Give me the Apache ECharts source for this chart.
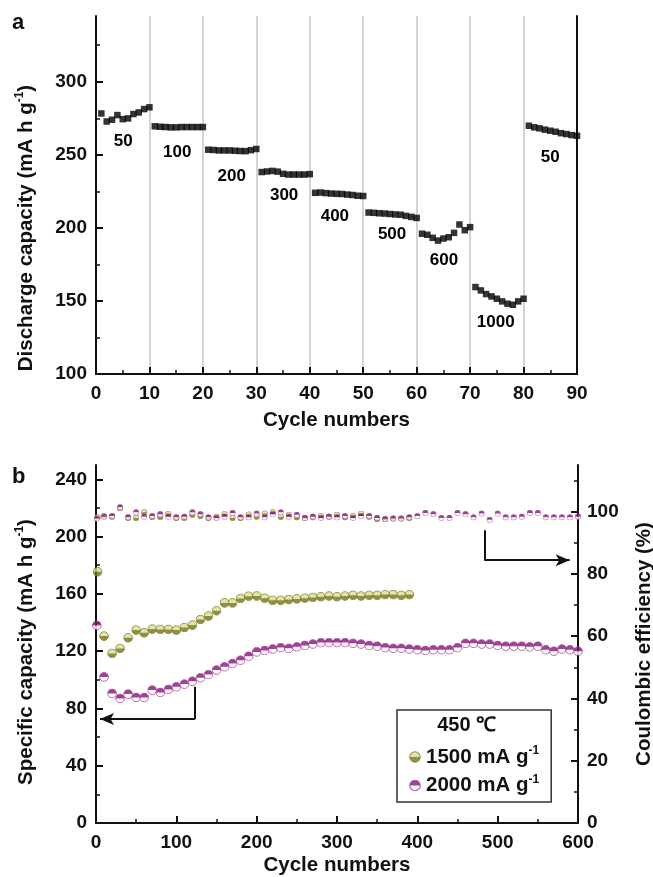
<!DOCTYPE html>
<html><head><meta charset="utf-8">
<script src="https://cdn.jsdelivr.net/npm/echarts@6/dist/echarts.min.js"></script>
<style>html,body{margin:0;padding:0;background:#fff}#c{width:653px;height:877px}</style>
</head><body><div id="c"></div>
<script>
// ---------- Panel a: rate capability ----------
const cyclesA = [1,2,3,4,5,6,7,8,9,10,11,12,13,14,15,16,17,18,19,20,21,22,23,24,25,26,27,28,29,30,
  31,32,33,34,35,36,37,38,39,40,41,42,43,44,45,46,47,48,49,50,51,52,53,54,55,56,57,58,59,60,
  61,62,63,64,65,66,67,68,69,70,71,72,73,74,75,76,77,78,79,80,81,82,83,84,85,86,87,88,89,90];
const capacityA = [
  278.3,272.8,274.0,277.2,274.4,274.9,277.9,279.0,281.3,282.5,
  269.5,269.2,269.0,268.8,268.8,269.0,269.0,269.0,269.0,269.0,
  253.5,253.3,253.0,253.0,253.0,252.8,252.6,252.5,253.2,254.0,
  238.2,238.6,239.0,238.5,237.0,236.5,236.5,236.5,236.5,236.8,
  224.0,224.2,223.8,223.5,223.3,223.2,222.8,222.5,222.0,221.8,
  210.5,210.3,210.0,209.8,209.5,209.2,209.0,208.2,207.5,206.8,
  196.0,195.3,193.2,191.3,192.7,193.6,196.6,202.3,198.4,200.5,
  159.5,157.2,154.7,153.1,151.5,149.7,148.1,147.4,149.7,151.5,
  269.9,268.8,268.1,267.2,266.5,265.8,264.8,264.2,263.5,263.0];
const rateLabels = ['50','100','200','300','400','500','600','1000','50'];
const rateLabelX = [5.1,15.2,25.4,35.2,44.7,55.4,65.1,74.8,85.0];
const rateLabelY = [259.0,251.8,235.5,222.0,207.8,195.5,177.8,135.2,248.4];
const yTicksA = [100,150,200,250,300];

// ---------- Panel b: cycling ----------
const cycles1500 = [2,10,20,30,40,50,60,70,80,90,100,110,120,130,140,150,160,170,180,190,
  200,210,220,230,240,250,260,270,280,290,300,310,320,330,340,350,360,370,380,390];
const cap1500 = [175.4,130.5,118.4,121.9,129.3,134.7,132.8,135.4,135.2,135.2,
  134.7,136.5,138.2,142.1,144.5,148.2,153.7,153.7,156.8,158.4,
  158.5,157.0,155.5,155.5,156.0,156.5,157.0,157.5,158.0,158.5,
  158.0,158.5,159.0,158.5,159.0,159.0,159.5,159.5,159.0,159.5];
const ce1500 = [98.2,98.6,98.4,101.2,98.0,98.0,99.8,98.3,98.3,99.3,
  98.0,98.0,99.0,98.6,98.0,98.4,99.2,98.0,98.0,99.1,
  98.4,99.4,99.8,98.3,99.0,98.2,98.0,98.2,98.6,98.4,
  99.0,98.2,98.6,99.3,98.4,97.6,97.6,97.8,97.8,98.0];
const cycles2000 = [1,10,20,30,40,50,60,70,80,90,100,110,120,130,140,150,160,170,180,190,
  200,210,220,230,240,250,260,270,280,290,300,310,320,330,340,350,360,370,380,390,
  400,410,420,430,440,450,460,470,480,490,500,510,520,530,540,550,560,570,580,590,600];
const cap2000 = [138.0,102.0,90.5,87.0,90.0,87.7,87.7,92.8,91.2,93.3,
  95.1,97.0,99.0,101.4,103.7,106.8,109.1,111.4,113.7,116.5,
  119.5,120.5,121.5,122.5,122.0,123.0,124.0,125.0,126.0,126.0,
  126.0,126.0,125.5,125.0,124.0,123.5,122.5,122.0,122.0,121.5,
  121.0,120.5,121.0,121.0,121.0,122.5,125.5,125.5,125.0,125.0,
  124.0,123.5,123.5,123.5,123.0,123.5,121.0,120.0,121.5,121.0,120.0];
const ce2000 = [97.8,98.4,98.6,101.4,98.2,99.8,98.4,98.6,99.2,98.4,
  98.2,98.4,99.8,99.2,98.2,98.0,98.4,99.6,98.2,98.2,
  99.4,98.2,99.2,99.8,98.4,99.0,98.0,98.4,98.0,98.4,
  98.2,98.6,98.0,98.6,98.6,98.0,97.6,97.8,97.8,98.2,
  98.6,99.6,99.2,98.0,98.0,99.6,99.2,98.2,99.4,97.4,
  99.4,98.2,98.2,98.4,99.6,99.6,98.2,98.2,98.2,98.2,98.4];
const seriesNames = ['1500 mA g-1','2000 mA g-1'];
const legendTitle = '450 \u2103';
const yTicksBLeft = [0,40,80,120,160,200,240];
const yTicksBRight = [0,20,40,60,80,100];
// arrow guides (cycle, specific capacity)
const arrowLeft = [[123.3,95.1],[123.3,72.6],[5.0,72.6]];
const arrowRight = [[483.3,204.5],[483.3,183.5],[589.6,183.5]];

// ---------- styling ----------
const FF = '"Liberation Sans", Arial, Helvetica, sans-serif';
const INK = '#111';
function halfSym(topFill, bottomFill, stroke) {
  const svg = '<svg xmlns="http://www.w3.org/2000/svg" width="40" height="40" viewBox="0 0 40 40">' +
    '<circle cx="20" cy="20" r="17.5" fill="' + bottomFill + '"/>' +
    '<path d="M2.5,20 A17.5,17.5 0 0 1 37.5,20 Z" fill="' + topFill + '"/>' +
    '<circle cx="20" cy="20" r="17.5" fill="none" stroke="' + stroke + '" stroke-width="3.5"/></svg>';
  return 'image://data:image/svg+xml;charset=utf-8,' + encodeURIComponent(svg);
}
const symOlive = halfSym('#dedd98', '#75741a', '#77761c');
const symMag = halfSym('#86157a', '#ffffff', '#9a2a8e');

const rich = {
  t: {fontFamily: FF, fontWeight: 'bold', fontSize: 20.5, color: INK, lineHeight: 24},
  s: {fontFamily: FF, fontWeight: 'bold', fontSize: 12, color: INK, verticalAlign: 'top', lineHeight: 24}
};
const supName = (base) => '{t|' + base + '}{s|-1}';
const tickFont = {fontFamily: FF, fontWeight: 'bold', fontSize: 19, color: INK};

function valueAxis(o) {
  return Object.assign({
    type: 'value',
    axisLine: {show: true, lineStyle: {color: INK, width: 2}},
    axisTick: {show: true, inside: true, length: 7, lineStyle: {color: INK, width: 2}},
    minorTick: {show: true, splitNumber: 2, length: 4, lineStyle: {color: INK, width: 1.5}},
    axisLabel: Object.assign({margin: 9}, tickFont),
    splitLine: {show: false},
    nameTextStyle: {fontFamily: FF, fontWeight: 'bold', fontSize: 20.5, color: INK, rich: rich},
    nameLocation: 'middle'
  }, o);
}

const chart = echarts.init(document.getElementById('c'), null, {renderer: 'canvas'});
chart.setOption({
  animation: false,
  backgroundColor: '#fff',
  title: [
    {text: 'a', left: 12, top: 12, padding: 0, textStyle: {fontFamily: FF, fontWeight: 'bold', fontSize: 22, color: INK}},
    {text: 'b', left: 12, top: 466, padding: 0, textStyle: {fontFamily: FF, fontWeight: 'bold', fontSize: 22, color: INK}}
  ],
  grid: [
    {left: 96, top: 16, width: 481, height: 358, outerBoundsMode: 'none', containLabel: false},
    {left: 96, top: 465, width: 482, height: 358, outerBoundsMode: 'none', containLabel: false}
  ],
  xAxis: [
    valueAxis({gridIndex: 0, min: 0, max: 90, interval: 10, name: 'Cycle numbers', nameGap: 36,
      splitLine: {show: true, lineStyle: {color: '#c4c4c4', width: 1.5}}, axisLabel: Object.assign({margin: 10}, tickFont)}),
    valueAxis({gridIndex: 1, min: 0, max: 600, interval: 100, name: 'Cycle numbers', nameGap: 32,
      axisLabel: Object.assign({margin: 10}, tickFont)})
  ],
  yAxis: [
    valueAxis({gridIndex: 0, min: 100, max: 345, interval: 50, name: supName('Discharge capacity (mA h g') + '{t|)}', nameGap: 58,
      nameTextStyle: {fontFamily: FF, fontWeight: 'bold', fontSize: 20.5, color: INK, rich: rich, padding: [0, 66, 0, 0]},
      axisTick: {show: true, inside: true, length: 7, lineStyle: {color: INK, width: 2}, customValues: yTicksA},
      axisLabel: Object.assign({margin: 9, customValues: yTicksA}, tickFont)}),
    {type: 'value', gridIndex: 0, position: 'right', min: 100, max: 345,
      axisLine: {show: true, lineStyle: {color: INK, width: 2}}, axisTick: {show: false}, axisLabel: {show: false}, splitLine: {show: false}},
    valueAxis({gridIndex: 1, min: 0, max: 250, interval: 40, name: supName('Specific capacity (mA h g') + '{t|)}', nameGap: 58,
      nameTextStyle: {fontFamily: FF, fontWeight: 'bold', fontSize: 20.5, color: INK, rich: rich, padding: [0, 16, 0, 0]},
      axisTick: {show: true, inside: true, length: 7, lineStyle: {color: INK, width: 2}, customValues: yTicksBLeft},
      axisLabel: Object.assign({margin: 9, customValues: yTicksBLeft}, tickFont)}),
    valueAxis({gridIndex: 1, position: 'right', min: 0, max: 115, interval: 20, name: '{t|Coulombic efficiency (%)}', nameGap: 54,
      axisTick: {show: true, inside: true, length: 7, lineStyle: {color: INK, width: 2}, customValues: yTicksBRight},
      axisLabel: Object.assign({margin: 9, customValues: yTicksBRight}, tickFont)})
  ],
  legend: {
    show: true, orient: 'vertical', left: 397, top: 710, selectedMode: false,
    data: seriesNames, itemWidth: 12, itemHeight: 12, itemGap: 6,
    borderColor: '#333', borderWidth: 1.5, padding: [35, 12, 6, 12],
    formatter: (n) => supName(n.replace(' g-1', ' g')),
    textStyle: {rich: rich}
  },
  graphic: [
    {type: 'text', x: 466.7, y: 725, style: {text: legendTitle, font: 'bold 20px ' + FF, fill: INK, align: 'center', verticalAlign: 'middle'}}
  ],
  series: [
    {type: 'scatter', name: 'rate', xAxisIndex: 0, yAxisIndex: 0, symbol: 'rect', symbolSize: 6.5,
      itemStyle: {color: '#000'}, data: cyclesA.map((c, i) => [c, capacityA[i]])},
    {type: 'scatter', name: 'rate labels', xAxisIndex: 0, yAxisIndex: 0, symbolSize: 1, silent: true,
      itemStyle: {color: 'rgba(255,255,255,0)'},
      label: {show: true, position: 'inside', formatter: (p) => rateLabels[p.dataIndex], fontFamily: FF, fontWeight: 'bold', fontSize: 17, color: '#000', textBorderWidth: 0, opacity: 1},
      data: rateLabelX.map((x, i) => [x, rateLabelY[i]])},
    {type: 'scatter', name: seriesNames[0], xAxisIndex: 1, yAxisIndex: 2, symbol: symOlive, symbolSize: 10,
      data: cycles1500.map((c, i) => [c, cap1500[i]])},
    {type: 'scatter', name: seriesNames[1], xAxisIndex: 1, yAxisIndex: 2, symbol: symMag, symbolSize: 10,
      data: cycles2000.map((c, i) => [c, cap2000[i]]),
      markLine: {silent: true, symbol: ['none', 'none'], symbolSize: [9, 14], label: {show: false},
        lineStyle: {color: INK, width: 2, type: 'solid'},
        data: [
          [{coord: arrowLeft[0]}, {coord: arrowLeft[1]}],
          [{coord: arrowLeft[1]}, {coord: arrowLeft[2], symbol: 'arrow'}],
          [{coord: arrowRight[0]}, {coord: arrowRight[1]}],
          [{coord: arrowRight[1]}, {coord: arrowRight[2], symbol: 'arrow'}]
        ]}},
    {type: 'scatter', name: seriesNames[0], xAxisIndex: 1, yAxisIndex: 3, symbol: symOlive, symbolSize: 6.5,
      data: cycles1500.map((c, i) => [c, ce1500[i]])},
    {type: 'scatter', name: seriesNames[1], xAxisIndex: 1, yAxisIndex: 3, symbol: symMag, symbolSize: 6.5,
      data: cycles2000.map((c, i) => [c, ce2000[i]])}
  ]
});
</script></body></html>
